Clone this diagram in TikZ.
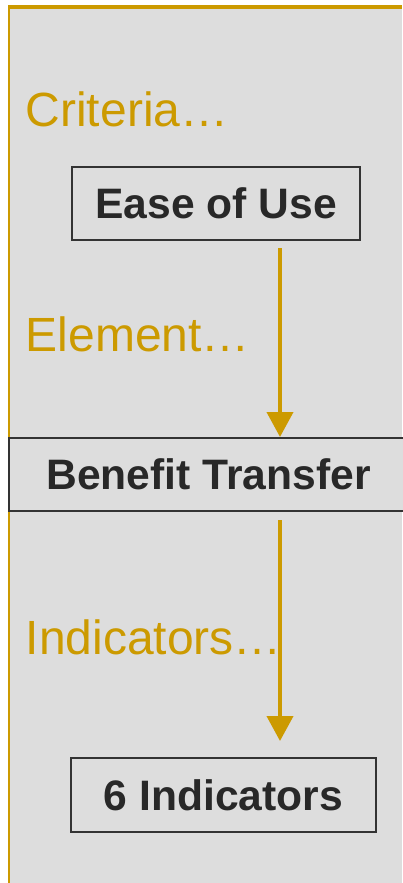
\documentclass[tikz,border=0pt]{standalone}
\usepackage{fontspec}
\setmainfont{Liberation Sans}
\usetikzlibrary{arrows.meta}
\definecolor{gold}{HTML}{CC9A00}
\definecolor{bg}{HTML}{DDDDDD}
\definecolor{dark}{HTML}{282828}
\definecolor{edge}{HTML}{333333}
\tikzset{
  box/.style={draw=edge, line width=2pt, fill=bg, text=dark, inner sep=0pt,
    font=\fontsize{42.6}{46}\selectfont\bfseries},
  lab/.style={text=gold, inner sep=0pt, anchor=base west,
    font=\fontsize{48}{52}\selectfont},
  arr/.style={draw=gold, line width=4pt, -{Triangle[width=26pt,length=25pt]}}
}
\begin{document}
\begin{tikzpicture}[x=1pt,y=-1pt]
\useasboundingbox (0,0) rectangle (402,883);
\fill[bg] (9,7) rectangle (402,883);
\draw[gold, line width=2pt] (9,7) -- (9,883);
\draw[gold, line width=4pt] (8,7) -- (402,7);

\node[lab] (crit) at (25.5,126) {Criteria…};
\node[lab] (elem) at (25.5,351) {Element…};
\node[lab] (indl) at (25.5,654) {Indicators…};

\node[box, minimum width=288pt, minimum height=73pt] (ease) at (216,203.5) {Ease of Use};
\node[box, minimum width=399pt, minimum height=73pt] (bt) at (208.5,474.5) {Benefit Transfer};
\node[box, minimum width=305pt, minimum height=74pt] (ind) at (223.5,795) {6 Indicators};

\draw[arr] ([xshift=64pt,yshift=-7pt]ease.south) -- ([xshift=71.5pt]bt.north);
\draw[arr] ([xshift=71.5pt,yshift=-8pt]bt.south) -- ([xshift=56.5pt,yshift=16pt]ind.north);
\end{tikzpicture}
\end{document}
